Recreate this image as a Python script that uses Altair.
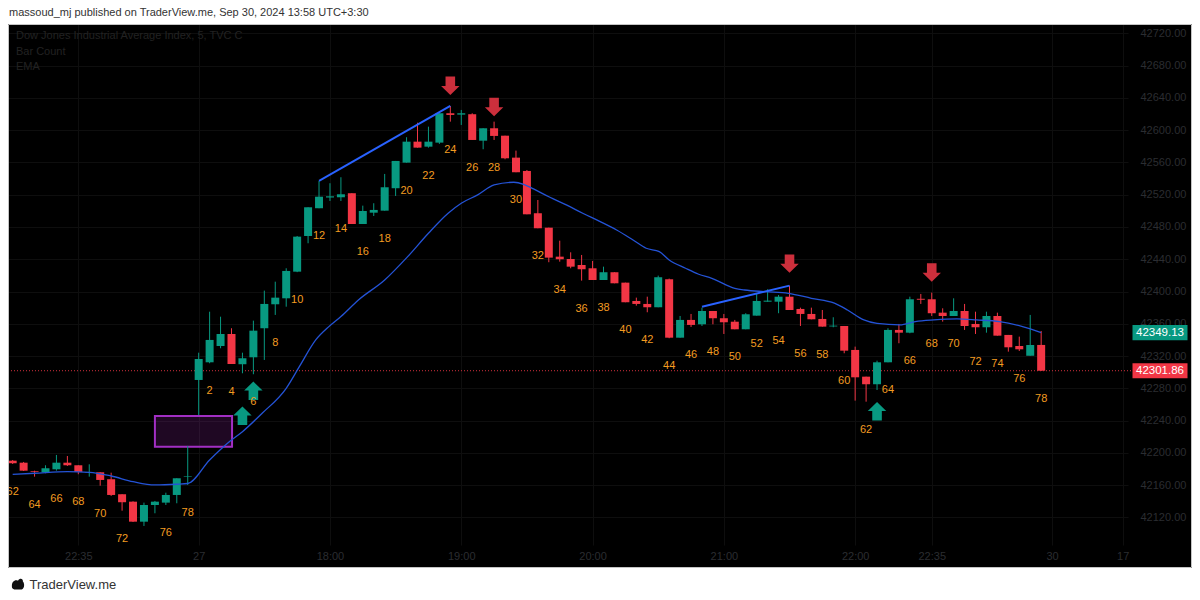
import json
import altair as alt
import pandas as pd

FONT = "Liberation Sans"
GREEN = "#089981"
RED = "#f23645"

# ---------------- data ----------------
BAR_K = list(range(-16, 79))
SESSION_LAST = 78
OPEN = [42190.4, 42187.9, 42177.4, 42176.0, 42179.7, 42187.9, 42184.7, 42175.7, 42176.0, 42167.4, 42148.8, 42139.6, 42114.8, 42135.5, 42138.4, 42147.9, 42170.2,
        42290.4, 42312.3, 42332.5, 42347.4, 42309.9, 42318.5, 42354.5, 42384.2, 42391.6, 42424.6,
        42468.8, 42503.2, 42516.5, 42516.8, 42521.8, 42483.7, 42497.7, 42500.2, 42528.0, 42559.7,
        42585.7, 42579.5, 42584.5, 42620.9, 42619.2, 42619.7, 42586.9, 42602.3, 42593.1, 42565.9,
        42549.4, 42497.0, 42479.1, 42443.2, 42440.3, 42432.9, 42428.8, 42414.3, 42423.9, 42411.0,
        42388.3, 42384.6, 42380.5, 42415.2, 42342.8, 42364.8, 42359.4, 42375.9, 42366.9, 42362.6,
        42353.2, 42370.1, 42387.4, 42387.4, 42393.6, 42378.4, 42372.2, 42366.0, 42356.7, 42357.3,
        42327.6, 42294.5, 42285.1, 42312.3, 42352.4, 42349.0, 42391.0, 42390.4, 42373.8, 42369.7,
        42375.9, 42359.8, 42355.7, 42369.7, 42346.2, 42332.5, 42320.5, 42333.8]
HIGH = [42191.2, 42188.8, 42178.0, 42184.7, 42197.5, 42196.2, 42184.7, 42185.9, 42176.0, 42175.5, 42148.8, 42140.0, 42138.4, 42140.5, 42150.7, 42168.6, 42208.6,
        42324.2, 42375.0, 42368.8, 42354.5, 42324.2, 42363.9, 42401.1, 42412.2, 42428.8, 42468.8,
        42504.4, 42537.0, 42534.2, 42541.6, 42521.8, 42506.4, 42509.4, 42545.7, 42561.8, 42591.2,
        42609.2, 42604.3, 42620.9, 42629.9, 42625.0, 42620.9, 42602.3, 42610.5, 42593.1, 42574.6,
        42550.6, 42513.4, 42479.1, 42463.0, 42448.6, 42445.3, 42437.9, 42430.8, 42423.9, 42411.0,
        42392.4, 42393.6, 42419.7, 42416.0, 42369.7, 42372.2, 42380.0, 42375.9, 42372.2, 42364.8,
        42373.1, 42397.8, 42402.8, 42395.7, 42407.3, 42380.0, 42380.0, 42377.1, 42368.1, 42357.3,
        42331.7, 42294.5, 42314.3, 42354.5, 42359.8, 42393.6, 42397.0, 42398.6, 42379.2, 42391.6,
        42384.6, 42375.0, 42375.0, 42373.8, 42346.2, 42344.1, 42371.0, 42351.1]
LOW = [42186.3, 42177.6, 42170.6, 42174.8, 42178.0, 42183.8, 42173.6, 42170.6, 42159.4, 42146.7, 42128.4, 42114.4, 42109.5, 42125.2, 42135.5, 42137.6, 42160.3,
       42247.0, 42311.1, 42329.7, 42310.2, 42298.7, 42297.5, 42315.2, 42371.0, 42381.2, 42424.0,
       42459.8, 42503.2, 42512.2, 42512.2, 42483.7, 42483.7, 42493.6, 42500.2, 42518.4, 42559.7,
       42578.3, 42578.3, 42582.9, 42610.5, 42606.4, 42587.8, 42576.3, 42587.8, 42563.9, 42547.8,
       42495.7, 42478.4, 42436.3, 42437.0, 42428.8, 42413.5, 42414.3, 42414.3, 42410.2, 42386.7,
       42382.5, 42374.3, 42380.5, 42342.1, 42342.8, 42356.1, 42357.3, 42359.4, 42347.4, 42353.2,
       42353.2, 42370.1, 42387.4, 42373.1, 42377.1, 42357.3, 42365.6, 42356.5, 42355.7, 42323.5,
       42264.8, 42263.5, 42278.0, 42312.3, 42335.9, 42348.3, 42384.6, 42369.7, 42362.7, 42369.7,
       42352.4, 42347.4, 42349.0, 42345.3, 42325.5, 42326.3, 42320.5, 42301.5]
CLOSE = [42187.2, 42178.0, 42176.5, 42181.0, 42187.9, 42184.7, 42176.4, 42176.4, 42166.5, 42147.9, 42138.9, 42114.8, 42135.5, 42139.6, 42147.9, 42168.6, 42170.9,
         42316.4, 42340.0, 42347.4, 42310.2, 42317.3, 42351.5, 42384.6, 42392.4, 42425.5, 42468.0,
         42504.4, 42517.5, 42518.0, 42520.5, 42483.7, 42499.8, 42501.1, 42529.2, 42561.8, 42585.7,
         42578.3, 42585.7, 42620.9, 42618.8, 42620.9, 42587.8, 42602.3, 42592.8, 42565.1, 42547.8,
         42495.7, 42478.4, 42442.0, 42440.0, 42430.8, 42427.6, 42414.3, 42423.9, 42410.2, 42386.7,
         42384.6, 42380.5, 42417.7, 42342.8, 42364.8, 42358.6, 42375.9, 42366.9, 42361.9, 42353.2,
         42371.8, 42388.3, 42388.7, 42393.6, 42377.1, 42372.2, 42365.6, 42356.5, 42357.7, 42326.7,
         42293.7, 42285.1, 42312.3, 42352.4, 42349.0, 42390.4, 42389.8, 42373.1, 42369.7, 42375.9,
         42357.3, 42355.7, 42369.7, 42345.3, 42330.9, 42328.4, 42333.8, 42301.86]

EMA_K = [-16, -14, -11, -9, -7, -5, -3, -1, 0, 2, 3.8, 5, 6.8, 9, 10.2, 11.7, 12.9, 14, 15.6,
         18, 20.1, 22, 23.8, 25, 26.5, 28, 29.8, 30.7, 31.6, 33.1, 34.6, 36.1, 37.7, 39.2, 40.7,
         41.9, 43.1, 44, 45.5, 46.7, 47.9, 50, 50.9, 52.8, 54.9, 57, 59.1, 60.3, 61.8, 63, 65.1,
         66.5, 68.2, 70.3, 72.1, 74.2, 76.3, 78]
EMA_V = [42173.5, 42174.8, 42176.8, 42176.0, 42171.4, 42164.4, 42160.3, 42161.2, 42162.1,
         42191.3, 42213.9, 42226.3, 42249.1, 42280.1, 42306.9, 42340.0, 42356.5, 42369.0, 42389.5,
         42414.3, 42443.2, 42472.2, 42497.0, 42509.4, 42519.7, 42532.0, 42535.4, 42532.9, 42527.1,
         42516.8, 42507.3, 42497.0, 42486.6, 42476.3, 42463.9, 42453.6, 42449.4, 42439.1, 42428.8,
         42421.4, 42416.4, 42404.0, 42401.9, 42399.8, 42397.8, 42391.6, 42385.5, 42377.1, 42364.8,
         42360.4, 42358.6, 42362.7, 42364.8, 42366.0, 42364.8, 42362.7, 42356.5, 42349.13]

TREND_ID = ["a", "a", "b", "b"]
TREND_K = [12, 24, 47, 55]
TREND_P = [42537.0, 42629.9, 42381.2, 42407.3]

UP_ARROW_K = [5, 6, 63]
UP_ARROW_P = [42246.0, 42277.0, 42251.7]
DN_ARROW_K = [24, 28, 55, 68]
DN_ARROW_P = [42655.0, 42628.7, 42434.6, 42423.6]

BOX_K = [-3.0, 4.05]
BOX_P = [42207.8, 42245.8]

LAST_CLOSE = 42301.86
EMA_LAST = 42349.13

Y_TICKS = [42120, 42160, 42200, 42240, 42280, 42320, 42360, 42400, 42440, 42480,
           42520, 42560, 42600, 42640, 42680, 42720]
TIME_K = [-10, 1, 13, 25, 37, 49, 61, 68, 79, 85.45]
TIME_LABELS = ["22:35", "27", "18:00", "19:00", "20:00", "21:00", "22:00", "22:35", "30", "17"]

HEADER = "massoud_mj published on TraderView.me, Sep 30, 2024 13:58 UTC+3:30"
LEGEND = ["Dow Jones Industrial Average Index, 5, TVC  C", "Bar Count", "EMA"]
FOOTER = "TraderView.me"

# ---------------- chart ----------------
W, H = 1120, 521
X_DOMAIN = [-15.97, 85.48]
Y_DOMAIN = [42085.9, 42731.5]
AXIS_TXT = "#2b2d31"
GRID = "#0e0e0e"

label_expr = f"{json.dumps(TIME_LABELS)}[indexof({json.dumps(TIME_K)}, datum.value)]"
x_axis = alt.Axis(orient="bottom", values=TIME_K, labelExpr=label_expr, title=None,
                  labelColor=AXIS_TXT, labelFontSize=11, labelFont=FONT, labelPadding=5,
                  ticks=False, domain=False, grid=True, gridColor=GRID,
                  labelFlush=False, labelOverlap=False, zindex=0)
y_axis = alt.Axis(orient="right", values=Y_TICKS, format=".2f", title=None,
                  labelColor=AXIS_TXT, labelFontSize=11, labelFont=FONT, labelPadding=12,
                  labelAlign="left", ticks=False, domain=False, grid=True, gridColor=GRID,
                  labelOverlap=False, zindex=0)
xs = alt.Scale(domain=X_DOMAIN, nice=False, zero=False)
ys = alt.Scale(domain=Y_DOMAIN, nice=False, zero=False)


def X(field):
    return alt.X(field, type="quantitative", scale=xs, axis=x_axis)


def Y(field):
    return alt.Y(field, type="quantitative", scale=ys, axis=y_axis)


bars = pd.DataFrame({"k": BAR_K, "open": OPEN, "high": HIGH, "low": LOW, "close": CLOSE})
bars["count"] = [k if k > 0 else SESSION_LAST + k for k in BAR_K]
ema = pd.DataFrame({"k": EMA_K, "v": EMA_V})
trend = pd.DataFrame({"id": TREND_ID, "k": TREND_K, "p": TREND_P})
up = pd.DataFrame({"k": UP_ARROW_K, "p": UP_ARROW_P})
dn = pd.DataFrame({"k": DN_ARROW_K, "p": DN_ARROW_P})
box = pd.DataFrame({"k1": [BOX_K[0]], "k2": [BOX_K[1]], "p1": [BOX_P[0]], "p2": [BOX_P[1]]})
last = pd.DataFrame({"p": [LAST_CLOSE]})
tags = pd.DataFrame({"p": [EMA_LAST, LAST_CLOSE], "t": [f"{EMA_LAST:.2f}", f"{LAST_CLOSE:.2f}"],
                     "kind": ["ema", "close"]})
one = pd.DataFrame({"_": [0]})

color = alt.Color("dir:N", scale=alt.Scale(domain=["up", "down"], range=[GREEN, RED]), legend=None)
base = alt.Chart(bars).transform_calculate(dir="datum.close >= datum.open ? 'up' : 'down'")

wicks = base.mark_rule(strokeWidth=1, clip=True).encode(x=X("k"), y=Y("low"), y2="high", color=color)
bodies = base.mark_bar(size=8, clip=True).encode(x=X("k"), y=Y("open"), y2="close", color=color)
counts = alt.Chart(bars).transform_filter("datum.count % 2 == 0").mark_text(
    color="#f39c21", fontSize=11, font=FONT, dy=28, baseline="middle", clip=True
).encode(x=X("k"), y=Y("low"), text="count:Q")

ema_line = alt.Chart(ema).mark_line(color="#2453d6", strokeWidth=1.3, interpolate="monotone", clip=True).encode(
    x=X("k"), y=Y("v"))
trend_lines = alt.Chart(trend).mark_line(color="#2962ff", strokeWidth=2, clip=True).encode(
    x=X("k"), y=Y("p"), detail="id:N")

UP_PATH = "M0,-1L1,-0.02L0.52,-0.02L0.52,1L-0.52,1L-0.52,-0.02L-1,-0.02Z"
DN_PATH = "M0,1L1,0.02L0.52,0.02L0.52,-1L-0.52,-1L-0.52,0.02L-1,0.02Z"
up_arrows = alt.Chart(up).mark_point(shape=UP_PATH, filled=True, size=340, color=GREEN, opacity=1,
                                     strokeWidth=0).encode(x=X("k"), y=Y("p"))
dn_arrows = alt.Chart(dn).mark_point(shape=DN_PATH, filled=True, size=340, color="#cc2f3c", opacity=1,
                                     strokeWidth=0).encode(x=X("k"), y=Y("p"))

fvg = alt.Chart(box).mark_rect(fill="#9c27b0", fillOpacity=0.2, stroke="#a22fc4", strokeWidth=2).encode(
    x=X("k1"), x2="k2", y=Y("p1"), y2="p2")

price_line = alt.Chart(last).mark_rule(color="#d2303d", strokeWidth=1, strokeDash=[1, 2]).encode(
    y=Y("p"), x=alt.value(0), x2=alt.value(1124))

RECT_PATH = "M-1,-0.275L1,-0.275L1,0.275L-1,0.275Z"
tag_boxes = alt.Chart(tags).mark_point(shape=RECT_PATH, filled=True, size=3025, opacity=1, strokeWidth=0).encode(
    x=alt.value(1152), y=Y("p"),
    color=alt.Color("kind:N", scale=alt.Scale(domain=["ema", "close"], range=["#2962ff", RED]), legend=None))
tag_text = alt.Chart(tags).mark_text(color="white", fontSize=11.5, font=FONT, baseline="middle", align="center").encode(
    x=alt.value(1152), y=Y("p"), text="t:N")

white_top = alt.Chart(one).mark_rect(color="white").encode(
    x=alt.value(-1), x2=alt.value(1186), y=alt.value(-17), y2=alt.value(0))
white_bottom = alt.Chart(one).mark_rect(color="white").encode(
    x=alt.value(-1), x2=alt.value(1186), y=alt.value(544), y2=alt.value(570))
frame = alt.Chart(one).mark_rect(fill=None, stroke="#c4c4c4", strokeWidth=1).encode(
    x=alt.value(0.5), x2=alt.value(1183.5), y=alt.value(0.5), y2=alt.value(543.5))

header = alt.Chart(one).mark_text(text=HEADER, align="left", baseline="middle", fontSize=11, font=FONT,
                                  color="#333333").encode(x=alt.value(1), y=alt.value(-11))
leg_layers = []
for i, txt in enumerate(LEGEND):
    leg_layers.append(alt.Chart(one).mark_text(text=txt, align="left", baseline="middle", fontSize=11, font=FONT,
                                               color="#222222").encode(x=alt.value(8), y=alt.value(12 + 15.5 * i)))
footer = alt.Chart(one).mark_text(text=FOOTER, align="left", baseline="middle", fontSize=13, font=FONT,
                                  color="#333333").encode(x=alt.value(21.5), y=alt.value(560.5))
LOGO_PATH = ("M-1,0.3C-1,-0.4 -0.5,-0.8 0,-0.55C0.25,-1 0.85,-0.95 0.8,-0.4"
             "C1.1,-0.1 1.1,0.75 0.6,0.9L-0.6,0.9C-1,0.8 -1,0.55 -1,0.3Z")
logo = alt.Chart(one).mark_point(shape=LOGO_PATH, filled=True, size=150, color="#111111", opacity=1,
                                 strokeWidth=0).encode(x=alt.value(10), y=alt.value(560))

chart = alt.layer(
    white_top, white_bottom, price_line, fvg, wicks, bodies, ema_line, trend_lines,
    up_arrows, dn_arrows, counts, header, *leg_layers, footer, logo, frame, tag_boxes, tag_text
).properties(
    width=W, height=H,
    autosize=alt.AutoSizeParams(type="none"),
    padding={"left": 0, "top": 16, "right": 64, "bottom": 47},
).configure(background="#000000").configure_view(stroke=None)

chart.save("out.html", embed_options={"renderer": "svg", "actions": False})
